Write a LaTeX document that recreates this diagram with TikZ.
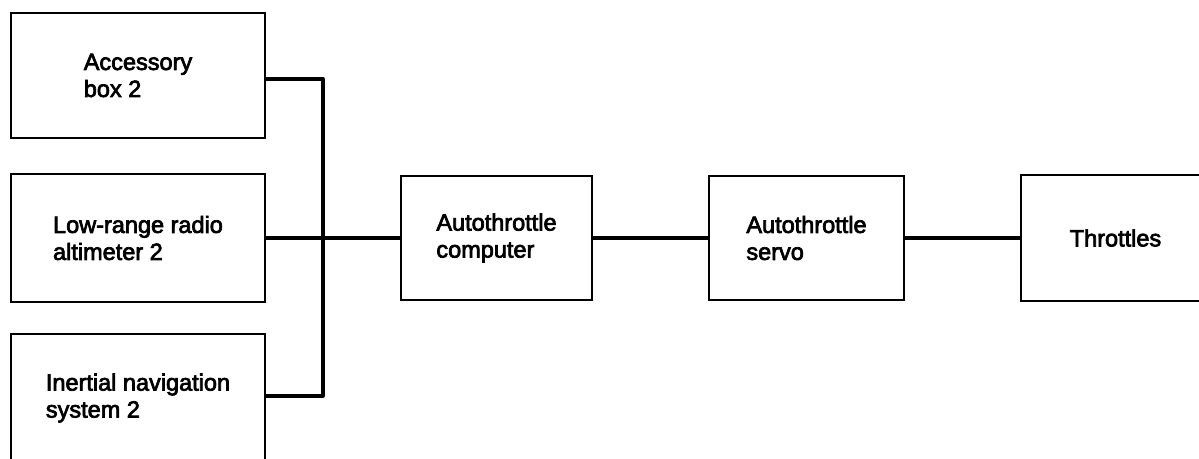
\documentclass[tikz,border=0pt]{standalone}
\usepackage{fontspec}
\setmainfont{Liberation Sans}[FakeBold=3]
\begin{document}
\begin{tikzpicture}[x=1pt,y=-1pt,
  unit/.style={draw, line width=2.7pt, inner sep=0pt, align=left,
    font=\fontsize{23.5}{27}\selectfont},
  wire/.style={line width=3.3pt, line join=round, line cap=butt}]
\useasboundingbox (0,0) rectangle (1199,458);

% sources on the left
\node[unit, minimum width=254pt, minimum height=125pt] (acc)  at (138,75.5)
  {Accessory\\box 2};
\node[unit, minimum width=254pt, minimum height=128pt] (lrra) at (138,238)
  {Low-range radio\\altimeter 2};
\node[unit, minimum width=254pt, minimum height=128pt] (ins)  at (138,398)
  {Inertial navigation\\system 2};

% the chain to the throttles
\node[unit, minimum width=191pt, minimum height=124pt] (comp)  at (496.5,238)
  {Autothrottle\\computer};
\node[unit, minimum width=195pt, minimum height=124pt] (servo) at (806.5,238)
  {Autothrottle\\servo};
\node[unit, minimum width=189pt, minimum height=126pt] (thr)   at (1115.5,238)
  {Throttles};

% common bus
\coordinate (bustop) at (323,79);
\coordinate (busbot) at (323,396);
\draw[wire] (acc.east |- bustop) -- (bustop) -- (busbot) -- (ins.east |- busbot);
\draw[wire] (lrra.east) -- (comp.west);
\draw[wire] (comp.east) -- (servo.west);
\draw[wire] (servo.east) -- (thr.west);
\end{tikzpicture}
\end{document}
